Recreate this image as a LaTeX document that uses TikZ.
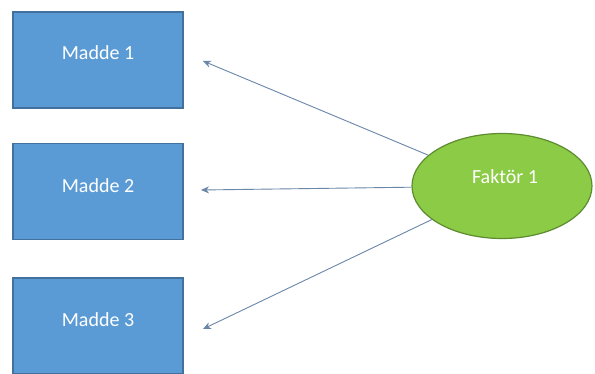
\documentclass[tikz,border=0pt]{standalone}
\usepackage{fontspec}
\setmainfont{Carlito}
\usetikzlibrary{shapes.geometric,arrows.meta}
\definecolor{itemfill}{HTML}{5B9BD5}
\definecolor{itemborder}{HTML}{41719C}
\definecolor{factorfill}{HTML}{8CCB45}
\definecolor{factorborder}{HTML}{5E8C31}
\definecolor{linkcol}{HTML}{6A86A8}
\begin{document}
\begin{tikzpicture}[x=1pt,y=-1pt,
  item/.style={draw=itemborder,line width=1.2pt,fill=itemfill,minimum width=170pt,minimum height=96pt,inner sep=0pt},
  factor/.style={ellipse,draw=factorborder,line width=1.2pt,fill=factorfill,minimum width=180pt,minimum height=105pt,inner sep=0pt},
  lbl/.style={text=white,font=\fontsize{20}{24}\selectfont},
  link/.style={draw=linkcol,line width=0.9pt,-{Stealth[length=8pt,width=7pt]}}]
\fill[white] (0,0) rectangle (595,374);
\useasboundingbox (0,0) rectangle (595,374);
% item boxes
\node[item] (m1) at (98,60) {};
\node[item] (m2) at (98,191.5) {};
\node[item] (m3) at (98,326) {};
\node[lbl] (t1) at (98,53) {Madde 1};
\node[lbl] (t2) at (98,186) {Madde 2};
\node[lbl] (t3) at (98,320) {Madde 3};
% factor
\node[factor] (f) at (502,186) {};
\node[lbl] (tf) at (505,177) {Faktör 1};
% free arrow ends near the boxes
\coordinate (e1) at (203,61);
\coordinate (e2) at (201,190);
\coordinate (e3) at (203,329);
\draw[link] (f) -- (e1);
\draw[link] (f) -- (e2);
\draw[link] (f) -- (e3);
\end{tikzpicture}
\end{document}
